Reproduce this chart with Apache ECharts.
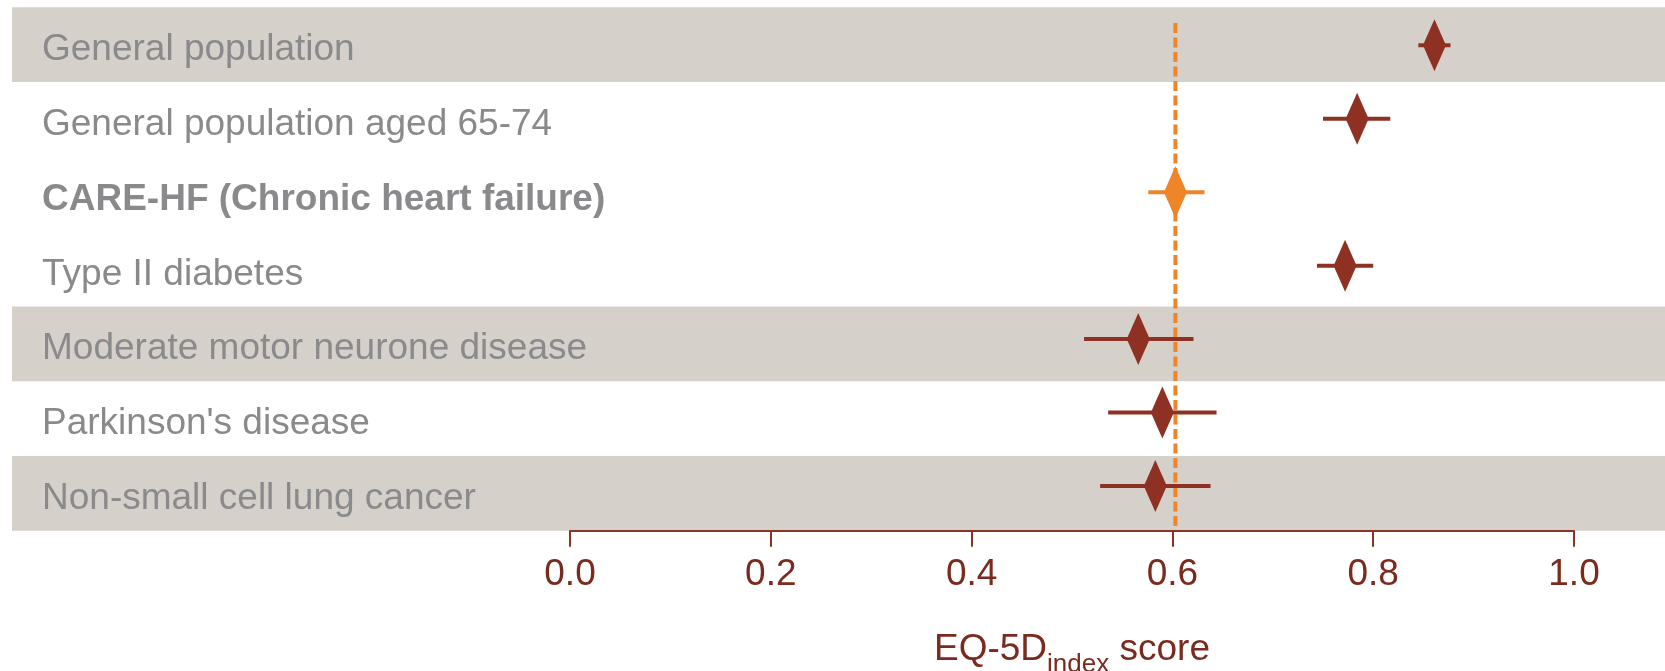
<!DOCTYPE html>
<html>
<head>
<meta charset="utf-8">
<script src="https://cdn.jsdelivr.net/npm/echarts@6/dist/echarts.min.js"></script>
<style>
  html, body { margin: 0; padding: 0; background: #ffffff; }
  #chart { width: 1665px; height: 671px; }
</style>
</head>
<body>
<div id="chart"></div>
<script>
// Study populations, listed top to bottom
const categories = [
  'General population',
  'General population aged 65-74',
  'CARE-HF (Chronic heart failure)',
  'Type II diabetes',
  'Moderate motor neurone disease',
  "Parkinson's disease",
  'Non-small cell lung cancer'
];
// Mean EQ-5D index score with its interval
const means = [0.861, 0.784, 0.603, 0.772, 0.566, 0.590, 0.583];
const lower = [0.845, 0.750, 0.576, 0.744, 0.512, 0.536, 0.528];
const upper = [0.877, 0.817, 0.632, 0.800, 0.621, 0.644, 0.638];
// Rows drawn on a shaded band
const shaded = [1, 0, 0, 0, 1, 0, 1];
// Highlighted study and its reference score
const highlight = 'CARE-HF (Chronic heart failure)';
const referenceScore = 0.603;
// Score axis
const axisMin = 0, axisMax = 1, axisStep = 0.2;

const DARK = '#8e3122';
const ORANGE = '#ee8528';
const AXIS = '#8b3425';
const AXIS_TEXT = '#7a2a1e';
const LABEL = '#8a8a8c';
const BAND = '#d5d0ca';
const FONT = '"Liberation Sans", Arial, Helvetica, sans-serif';

const chart = echarts.init(document.getElementById('chart'), null, { renderer: 'canvas' });

// the marker rows sit slightly tighter than the label bands; the score axis
// is pushed down to the bottom edge of the bands
const AXIS_OFFSET = 8;

const option = {
  animation: false,
  backgroundColor: '#ffffff',
  grid: [
    { left: 12, right: 0, top: 7.3, bottom: 140.3, outerBoundsMode: 'none' },
    { left: 570, right: 91, top: 8.6, bottom: 148.3, outerBoundsMode: 'none' }
  ],
  xAxis: [
    { gridIndex: 0, type: 'value', min: 0, max: 1, show: false },
    {
      gridIndex: 1, type: 'value', min: axisMin, max: axisMax, interval: axisStep, z: 5,
      offset: AXIS_OFFSET,
      axisLine: { show: true, lineStyle: { color: AXIS, width: 2 } },
      axisTick: { show: true, length: 16, lineStyle: { color: AXIS, width: 2 } },
      splitLine: { show: false },
      axisLabel: {
        margin: 26, fontSize: 37, fontFamily: FONT, color: AXIS_TEXT,
        formatter: v => v.toFixed(1)
      },
      name: '{m|EQ-5D}{s|index}{m| score}',
      nameLocation: 'middle',
      nameGap: 101,
      nameTextStyle: {
        rich: {
          m: { fontSize: 37, fontFamily: FONT, color: AXIS_TEXT, lineHeight: 46, verticalAlign: 'top' },
          s: { fontSize: 26, fontFamily: FONT, color: AXIS_TEXT, lineHeight: 24, verticalAlign: 'bottom' }
        }
      }
    }
  ],
  yAxis: [
    {
      gridIndex: 0, type: 'category', data: categories, inverse: true,
      axisLine: { show: false }, axisTick: { show: false }, splitLine: { show: false },
      axisLabel: {
        interval: 0, inside: true, margin: 30, align: 'left', fontSize: 37, fontFamily: FONT,
        formatter: v => v === highlight ? '{b|' + v + '}' : '{n|' + v + '}',
        rich: {
          n: { fontSize: 37, fontFamily: FONT, color: LABEL, padding: [11, 0, 0, 0] },
          b: { fontSize: 37, fontFamily: FONT, color: LABEL, fontWeight: 'bold', padding: [11, 0, 0, 0] }
        }
      }
    },
    { gridIndex: 1, type: 'category', data: categories, inverse: true, show: false }
  ],
  series: [
    {
      // shaded background bands spanning the full row
      type: 'bar', xAxisIndex: 0, yAxisIndex: 0, silent: true,
      barWidth: '100%', barCategoryGap: '0%',
      itemStyle: { color: BAND },
      data: shaded.map(s => (s ? 1 : '-')),
      z: -1
    },
    {
      // dashed reference line at the highlighted study's score
      type: 'custom', xAxisIndex: 1, yAxisIndex: 1, silent: true, z: 2,
      data: [[referenceScore]],
      renderItem: (params, api) => {
        const rect = params.coordSys;
        const x = api.coord([api.value(0), 0])[0];
        return {
          type: 'line',
          shape: { x1: x, y1: rect.y + 14.5, x2: x, y2: rect.y + rect.height + AXIS_OFFSET },
          style: { stroke: ORANGE, lineWidth: 4, lineDash: [10, 4.5] }
        };
      }
    },
    {
      // interval line plus diamond for each study
      type: 'custom', xAxisIndex: 1, yAxisIndex: 1, silent: true, z: 3,
      data: categories.map((c, i) => [means[i], i, lower[i], upper[i]]),
      renderItem: (params, api) => {
        const i = api.value(1);
        const color = categories[i] === highlight ? ORANGE : DARK;
        const c = api.coord([api.value(0), i]);
        const lo = api.coord([api.value(2), i]);
        const hi = api.coord([api.value(3), i]);
        const hw = 11.5, hh = 26;
        return {
          type: 'group',
          children: [
            {
              type: 'line',
              shape: { x1: lo[0], y1: c[1], x2: hi[0], y2: c[1] },
              style: { stroke: color, lineWidth: 4 }
            },
            {
              type: 'polygon',
              shape: { points: [[c[0], c[1] - hh], [c[0] + hw, c[1]], [c[0], c[1] + hh], [c[0] - hw, c[1]]] },
              style: { fill: color }
            }
          ]
        };
      }
    }
  ]
};

chart.setOption(option);
</script>
</body>
</html>
